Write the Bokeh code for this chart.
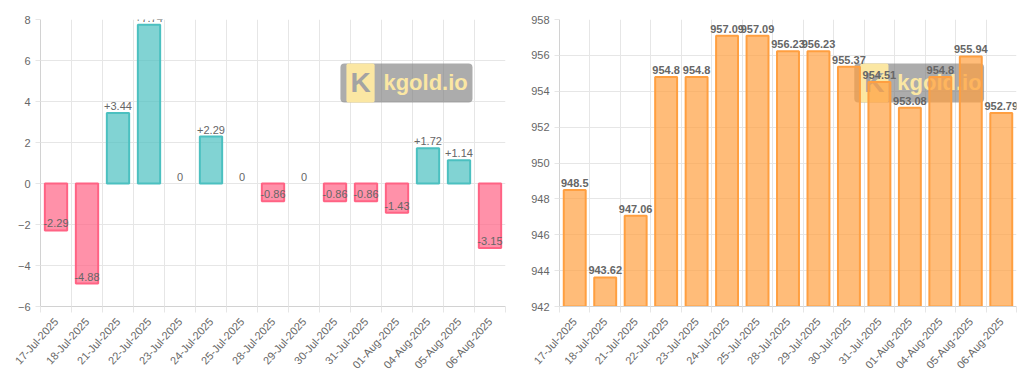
import math
from bokeh.plotting import figure
from bokeh.layouts import row
from bokeh.models import (Range1d, FixedTicker, ColumnDataSource, LabelSet,
                          BoxAnnotation, Label)
from bokeh.core.properties import value
from bokeh.embed import file_html
from bokeh.resources import INLINE

# ---------------- data ----------------
dates = ["17-Jul-2025", "18-Jul-2025", "21-Jul-2025", "22-Jul-2025", "23-Jul-2025",
         "24-Jul-2025", "25-Jul-2025", "28-Jul-2025", "29-Jul-2025", "30-Jul-2025",
         "31-Jul-2025", "01-Aug-2025", "04-Aug-2025", "05-Aug-2025", "06-Aug-2025"]
change = [-2.29, -4.88, 3.44, 7.74, 0, 2.29, 0, -0.86, 0, -0.86, -0.86, -1.43, 1.72, 1.14, -3.15]
price = [948.5, 943.62, 947.06, 954.8, 954.8, 957.09, 957.09, 956.23, 956.23, 955.37,
         954.51, 953.08, 954.8, 955.94, 952.79]
change_ticks = [-6, -4, -2, 0, 2, 4, 6, 8]
price_ticks = [942, 944, 946, 948, 950, 952, 954, 956, 958]

FONT = "Liberation Sans"
GRID = "#e6e6e6"
AXIS = "#d2d2d2"
TXT = "#666666"


def fmt_change(v):
    if v > 0:
        return "+" + str(v)
    if v == 0:
        return "0"
    return str(v)


def fmt_price(v):
    return str(v)


def base_fig(width, bl, br, yr, yticks):
    n = len(dates)
    p = figure(width=width, height=381, x_range=Range1d(-0.5, n - 0.5), y_range=yr,
               output_backend="svg", toolbar_location=None,
               min_border_left=bl, min_border_right=br, min_border_top=19, min_border_bottom=75)
    p.outline_line_color = None
    p.background_fill_color = "white"
    p.border_fill_color = "white"
    xs = list(range(n))
    bounds = [i - 0.5 for i in range(n + 1)]
    p.xaxis.ticker = FixedTicker(ticks=xs, minor_ticks=bounds)
    p.xaxis.major_label_overrides = {i: d for i, d in enumerate(dates)}
    p.xaxis.major_tick_line_color = None
    p.xaxis.major_tick_out = 0
    p.xaxis.major_tick_in = 0
    p.xaxis.minor_tick_line_color = GRID
    p.xaxis.minor_tick_out = 6
    p.xaxis.minor_tick_in = 0
    p.xaxis.major_label_orientation = math.radians(48)
    p.xaxis.major_label_standoff = 7
    p.xgrid.ticker = FixedTicker(ticks=bounds)
    p.yaxis.ticker = FixedTicker(ticks=yticks)
    p.yaxis.major_tick_out = 5
    p.yaxis.major_tick_in = 0
    p.yaxis.major_tick_line_color = GRID
    p.yaxis.minor_tick_line_color = None
    p.yaxis.major_label_standoff = 5
    for ax in (p.xaxis, p.yaxis):
        ax.axis_line_color = AXIS
        ax.major_label_text_font = FONT
        ax.major_label_text_font_size = "11px"
        ax.major_label_text_color = TXT
    p.xgrid.grid_line_color = GRID
    p.ygrid.grid_line_color = GRID
    return p


def watermark(p, xr, yr):
    fx0, fx1, fy0, fy1 = 0.645, 0.929, 0.153, 0.289
    x0 = xr.start + fx0 * (xr.end - xr.start)
    x1 = xr.start + fx1 * (xr.end - xr.start)
    ytop = yr.end - fy0 * (yr.end - yr.start)
    ybot = yr.end - fy1 * (yr.end - yr.start)
    box = BoxAnnotation(left=x0, right=x1, top=ytop, bottom=ybot, fill_color="#808080",
                        fill_alpha=0.65, line_color=None, border_radius=4, level="underlay")
    p.add_layout(box)
    ymid = (ytop + ybot) / 2
    icon = Label(x=x0, y=ymid, x_offset=6, text="K", text_font=FONT, text_font_style="bold",
                 text_font_size="28px", text_color="#a3a3a3", text_baseline="middle",
                 background_fill_color="#fbe7a3", padding=4, border_radius=2, level="underlay")
    p.add_layout(icon)
    name = Label(x=x0, y=ymid, x_offset=43, text="kgold.io", text_font=FONT,
                 text_font_style="bold", text_font_size="22px", text_color="#fbe7a3",
                 text_baseline="middle", level="underlay")
    p.add_layout(name)


# ---------------- left chart: daily change ----------------
yr1 = Range1d(-6, 8)
p1 = base_fig(510, 40, 5, yr1, change_ticks)
watermark(p1, p1.x_range, yr1)
fill1 = ["rgba(75,192,192,0.7)" if v >= 0 else "rgba(255,99,132,0.7)" for v in change]
line1 = [("rgb(75,192,192)" if v > 0 else "rgb(255,99,132)") if v != 0 else "rgba(0,0,0,0)"
         for v in change]
src1 = ColumnDataSource(dict(x=list(range(len(dates))), top=change, fill=fill1, line=line1,
                             label=[fmt_change(v) for v in change]))
p1.vbar(x="x", top="top", bottom=0, width=0.72, fill_color="fill", line_color="line",
        line_width=2, source=src1)
p1.add_layout(LabelSet(x="x", y="top", text="label", source=src1, text_align="center",
                       text_baseline="bottom", y_offset=3, text_font=value(FONT),
                       text_font_size="11px", text_color=TXT))

# ---------------- right chart: price ----------------
yr2 = Range1d(942, 958)
p2 = base_fig(514, 49, 8, yr2, price_ticks)
watermark(p2, p2.x_range, yr2)
src2 = ColumnDataSource(dict(x=list(range(len(dates))), top=price,
                             label=[fmt_price(v) for v in price]))
p2.vbar(x="x", top="top", bottom=yr2.start, width=0.72, fill_color="rgba(255,159,64,0.7)",
        line_color="rgb(255,159,64)", line_width=2, source=src2)
p2.add_layout(LabelSet(x="x", y="top", text="label", source=src2, text_align="center",
                       text_baseline="bottom", y_offset=3, text_font=value(FONT),
                       text_font_style="bold", text_font_size="11px", text_color=TXT))

layout = row(p1, p2)
open("out.html", "w").write(file_html(layout, INLINE))
